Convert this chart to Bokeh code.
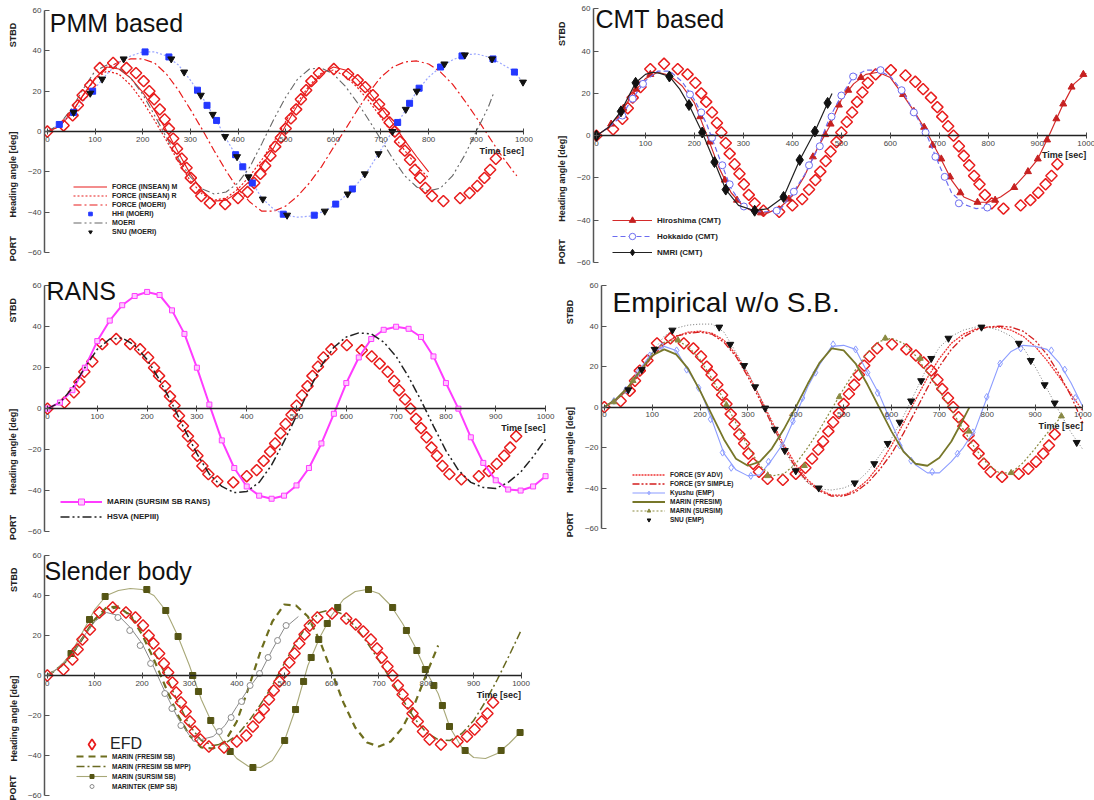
import math
from bokeh.plotting import figure
from bokeh.models import Range1d, FixedTicker, Label, Legend, LegendItem, LinearAxis
from bokeh.layouts import column, row
from bokeh.embed import file_html
from bokeh.resources import INLINE

FONT = "Liberation Sans"
X_TICKS = [0, 100, 200, 300, 400, 500, 600, 700, 800, 900, 1000]
Y_TICKS = [-60, -40, -20, 0, 20, 40, 60]
T41 = [0, 25, 50, 75, 100, 125, 150, 175, 200, 225, 250, 275, 300, 325, 350, 375, 400, 425, 450, 475,
       500, 525, 550, 575, 600, 625, 650, 675, 700, 725, 750, 775, 800, 825, 850, 875, 900, 925, 950, 975, 1000]

# ---------------- EFD (all panels) ----------------
EFD_T = [0, 34, 53, 64, 74, 90, 110, 138, 166, 186, 202, 214, 224, 236, 246, 255, 264, 272, 282, 292,
         301, 311, 323, 341, 373, 400, 420, 434, 447, 457, 468, 478, 490, 500, 511, 522, 532, 543, 554, 570,
         601, 631, 651, 667, 683, 696, 706, 718, 729, 740, 750, 761, 771, 782, 793, 807, 831, 866, 886, 902,
         917, 929, 941]
EFD_Y = [0, 3, 8, 13, 18, 23, 31.5, 34, 31.5, 29, 25, 20, 16, 11, 6, 1.5, -3.5, -8.5, -13.5, -18,
         -23, -28, -32, -35.5, -36, -33, -30, -25.5, -21, -17, -12, -7.5, -3, 1.5, 6.5, 11, 16, 20.5, 25, 29,
         31, 28.5, 25.5, 22, 18, 13.5, 9, 4.5, 0, -5, -9.5, -14, -19, -23, -28, -32, -34.5, -33, -30.5, -27,
         -23, -19, -13.5]

# ---------------- Panel 1: PMM based ----------------
INSEAN_T = T41[:33]
INSEAN_M_Y = [0, 2.5, 9, 18, 26.5, 32, 31, 26.5, 19.5, 10.5, 0.5, -10.5, -21, -29.5, -34.5, -34, -30, -24.5, -17, -8,
              3, 13, 22, 28.5, 32, 30.5, 26, 19.5, 12, 4, -4.5, -12.5, -20]
INSEAN_R_Y = [0, 2.5, 9, 18, 26, 30, 28.5, 23, 15, 5.5, -4.5, -15, -24.5, -31, -34, -33, -28.5, -22, -14, -5,
              5, 14.5, 23, 29, 30.5, 27.5, 22, 15, 7, -1.5, -9.5, -17, -23]
FMOERI_T = T41[:40] + [985]
FMOERI_Y = [0, 2.5, 9, 18, 26, 31.5, 34.5, 36, 36, 34, 28.5, 20.5, 11, 1, -9.5, -19.5, -28.5, -35, -39.5, -39.5,
            -37, -32, -25.5, -17.5, -8, 1, 10.5, 19.5, 27, 32, 34.5, 35, 33.5, 29.5, 23.5, 15.5, 7, -2, -11, -19, -22]
HHI_LINE_Y = [0, 3.5, 8, 15, 21.5, 28.5, 34.5, 37.5, 39.5, 39.5, 37.5, 33, 25.5, 17, 7.5, -3.5, -13.5, -23.5, -33, -38.5,
              -41.5, -42.5, -42, -40, -37, -32, -26, -18.5, -9, 0.5, 10, 20, 27, 32, 35.5, 38, 38.5, 37, 34, 30.5, 24]
HHI_T = [25, 55, 95, 205, 255, 315, 335, 355, 395, 410, 430, 495, 560, 605, 640, 735, 760, 780, 825, 870, 935, 980]
HHI_Y = [3.5, 9.5, 20, 39.5, 37, 20.5, 13, 5.5, -11.5, -17.5, -25.5, -41, -41.5, -36, -28.5, 4.5, 14, 21.5, 32, 37.5, 36, 29.5]
SNU1_T = [55, 90, 115, 160, 260, 287, 322, 347, 373, 398, 422, 452, 503, 582, 630, 666, 695, 724, 752, 775, 833, 876, 933, 998]
SNU1_Y = [9.5, 19, 26, 36, 36, 29.5, 18, 8.5, -2.5, -12.5, -22.5, -33.5, -41.5, -39.5, -31, -21, -11, 0, 11, 20, 33.5, 38, 36, 24.5]
MOERI_T = T41[:38] + [937]
MOERI_Y = [0, 3.5, 11, 21, 30, 33, 31.5, 26.5, 18.5, 8, -3, -13.5, -22.5, -28.5, -31, -30, -25.5, -17.5, -6, 6,
           17, 26, 31, 31.5, 28.5, 22.5, 14.5, 5.5, -4, -13.5, -22, -27.5, -29.5, -28, -22, -12, 0, 12, 19.5]

# ---------------- Panel 2: CMT based ----------------
HIRO_LINE_Y = [0, 4, 11, 20, 27, 30, 28.5, 23.5, 15.5, 0.5, -15, -27, -33.5, -36.5, -36.5, -34, -28.5, -19, -6.5, 4,
               17, 24.5, 29, 30, 27.5, 19.5, 11, 1.5, -9.5, -21, -29, -31.5, -31.5, -29, -25, -18.5, -11.5, 0.5, 13.5, 24.5, 29.5]
HIRO_T = [30, 55, 81, 110, 212, 231, 262, 287, 336, 393, 442, 467, 478, 495, 514, 540, 626, 648, 669, 686, 704, 722,
          743, 778, 814, 853, 881, 901, 920, 939, 953, 970, 994]
HIRO_Y = [5.5, 13, 22, 29, 9, -3, -21, -30.5, -36.5, -30, -10, 0.5, 5.5, 14.5, 21.5, 27.5, 19.5, 11.5, 4, -4.5, -11, -19.5,
          -27, -31.5, -30.5, -24.5, -17, -11, -2, 8, 15, 23, 29]
HOKK_LINE_T = T41[:33]
HOKK_LINE_Y = [0, 4, 9, 18, 26, 30.5, 30.5, 25.5, 17, 5.5, -10, -25, -33.5, -36, -36, -35, -27.5, -18.5, -7, 8,
               19, 28, 31, 31, 28, 21, 10.5, 0, -14, -27, -32.5, -34.5, -34]
HOKK_T = [53, 74, 95, 191, 214, 236, 257, 272, 301, 368, 403, 434, 456, 480, 500, 524, 580, 623, 648, 672, 692, 711, 740, 798]
HOKK_Y = [9.5, 17.5, 24.5, 19.5, 11, -1, -14, -23, -33.5, -35.5, -26.5, -14, -5, 9, 19, 28, 31, 21.5, 11, 1.5, -10, -19.5, -32, -34]
NMRI_LINE_T = [0, 25, 50, 80, 100, 115, 130, 149, 170, 189, 216, 241, 264, 290, 323, 350, 382, 415, 446, 472, 481]
NMRI_LINE_Y = [0, 4, 11.5, 25, 29, 30, 29.5, 28, 22, 14.5, 1.5, -12.5, -25.5, -33, -35.5, -34.5, -29, -11.5, 2, 15.5, 20]
NMRI_T = [0, 50, 80, 149, 189, 216, 241, 264, 323, 382, 415, 446, 472]
NMRI_Y = [0, 11.5, 25, 28, 14.5, 1.5, -12.5, -25.5, -35.5, -29, -11.5, 2, 15.5]

# ---------------- Panel 3: RANS ----------------
MARIN_RANS_Y = [0, 3, 9, 20, 33, 43, 50.5, 55, 57, 55.5, 48, 36.5, 20, 2, -15.5, -29, -38, -42.5, -44, -42.5,
                -37.5, -29, -17, -2.5, 12.5, 25, 34, 38.5, 40, 39, 35, 25.5, 12.5, 0, -14, -26.5, -35, -39.5, -40, -38, -33]
HSVA_Y = [0, 3, 10, 20, 29, 34, 34.5, 31, 24, 14, 2.5, -10, -22, -32, -38, -41, -40.5, -36, -27.5, -16,
          -3.5, 9, 21, 30, 35, 37, 36.5, 32.5, 25.5, 15.5, 4, -8.5, -20.5, -30, -36, -38.5, -39, -36, -31, -23.5, -15]

# ---------------- Panel 4: Empirical w/o S.B. ----------------
SY_ADV_Y = [0, 3.5, 9, 17, 25, 31, 35, 37, 37.5, 36.5, 33, 26, 16.5, 5, -7, -18.5, -28.5, -36, -41, -43.5,
            -43.5, -41, -36, -28.5, -19, -8, 3.5, 14.5, 24, 31.5, 36, 38.5, 39.5, 39.5, 38, 35, 30, 23, 15, 6.5, -2]
SY_SIMPLE_Y = [0, 3.5, 9, 17, 25, 31, 35, 36.5, 37, 36, 32, 25, 15, 3.5, -8.5, -20, -30, -37, -41.5, -44,
               -44, -42, -37.5, -31, -23, -13, -2, 9.5, 20, 28.5, 34.5, 38, 39.5, 40, 39.5, 37.5, 33, 26, 16.5, 5.5, -8]
KYUSHU_LINE_Y = [0, 4, 10, 19, 27, 30, 28, 18, 8.5, -6.5, -23, -31, -34, -33.5, -26, -17.5, -4, 10, 21, 30,
                 30.5, 28.5, 17, 6, -8, -21.5, -28.5, -32.5, -32.5, -27, -20, -11, 5, 21, 27.5, 30.5, 30, 28.5, 22, 12, 0]
KYUSHU_T = [20, 45, 70, 95, 120, 151, 172, 197, 222, 247, 265, 306, 343, 372, 394, 414, 441, 478, 525, 550, 571, 592,
            617, 641, 685, 738, 770, 799, 827, 870, 934, 962, 984]
KYUSHU_Y = [3, 8.5, 17, 25.5, 30, 28, 18.5, 9.5, -6, -22.5, -30, -34, -27, -19, -7, 4.5, 17, 31, 28.5, 17, 7, -4.5,
            -19, -26.5, -32, -23, -12.5, 5, 21.5, 29, 28, 18.5, 4.5]
FRESIM_T = T41[:31] + [763]
FRESIM_Y = [0, 4, 10, 18, 25.5, 28.5, 26, 19, 8, -4, -16, -25.5, -29, -27, -20.5, -11, 0, 11.5, 22, 29,
            28, 21.5, 11, -0.5, -12, -22, -28, -29, -25, -17, -6, 0]
SURSIM_T = T41[:39] + [955]
SURSIM_Y = [0, 3.5, 9, 18, 26.5, 32, 33, 30, 23.5, 14, 3.5, -8, -19.5, -29, -34, -33, -28, -20, -11, -1,
            9, 18.5, 27, 32.5, 34, 31.5, 25.5, 17, 8, -1.5, -11, -20.5, -28, -32.5, -32.5, -27.5, -20.5, -13, -6, -4.5]
SURSIM_MT = [20, 60, 154, 255, 341, 418, 491, 587, 660, 762, 850, 955]
SURSIM_MY = [2.5, 13, 33, 1, -34, -29, 5, 34, 24, -12, -32.5, -4.5]
SNU_EMP_LINE_Y = [0, 3.5, 8.5, 17.5, 27, 35, 39, 40.5, 41, 41, 37, 27, 17, 5, -8, -20.5, -31.5, -37.5, -40.5, -41,
                  -40, -37.5, -32, -24, -15.5, -4.5, 7.5, 20, 29.5, 35, 38, 39.5, 39.5, 38, 35, 29.5, 20, 9, -2, -12.5, -21]
SNU_EMP_T = [50, 78, 105, 142, 240, 263, 292, 315, 336, 356, 377, 400, 448, 523, 564, 592, 617, 641, 662, 683, 719,
             788, 866, 891, 920, 941, 987]
SNU_EMP_Y = [8.5, 18.5, 28.5, 38, 39.5, 31, 20.5, 10, -0.5, -11, -21.5, -31.5, -40, -37.5, -28, -18, -7.5, 3, 13, 24, 34,
             39.5, 31.5, 23, 11, 2, -17.5]

# ---------------- Panel 5: Slender body ----------------
FRESIM_SB_T = T41[:34]
FRESIM_SB_Y = [0, 4, 10, 19, 28, 34, 34.5, 30, 20.5, 8, -6, -19.5, -30, -36, -36.5, -33, -23, -6, 12, 27,
               35.5, 35, 29.5, 17.5, 2, -13.5, -26, -33.5, -35.5, -33, -26, -14.5, 0.5, 15]
MPP_Y = [0, 3.5, 9.5, 18.5, 27.5, 33, 34, 30.5, 22.5, 12, 0, -13, -25, -32.5, -35, -34, -30, -23, -14.5, -5,
         6, 16.5, 25.5, 31.5, 33, 30.5, 24.5, 16.5, 7.5, -2, -12, -21.5, -28.5, -32, -32.5, -29, -22.5, -13, -2, 10, 22.5]
SURSIM_SB_LINE_Y = [0, 4, 11, 22, 33, 40, 42.5, 43.5, 43, 40, 32.5, 20, 5, -12, -25, -34.5, -41.5, -45.5, -46, -42.5,
                    -33, -16, 5, 19, 30, 38, 42, 43, 41, 35, 26, 15, 2, -9, -26, -36, -41, -41.5, -39, -34, -28]
SURSIM_SB_T = [50, 89, 122, 210, 250, 276, 307, 319, 345, 386, 434, 501, 524, 541, 557, 573, 591, 613, 678, 729, 758,
               780, 798, 816, 834, 849, 882, 958, 998]
SURSIM_SB_Y = [11, 28, 39.5, 43, 32.5, 19.5, 0, -8, -22.5, -38, -46, -32.5, -17, -3, 9, 18, 26, 34, 43, 34, 22.5,
               12.5, 3, -5, -15, -25.5, -37.5, -37.5, -28.5]
MARINTEK_LINE_T = [0, 25, 50, 75, 100, 125, 150, 175, 200, 225, 250, 275, 300, 325, 350, 375, 400, 425, 450, 475, 500, 530]
MARINTEK_LINE_Y = [0, 4, 10, 19, 27, 31.5, 30, 24, 16, 4, -9, -21, -30, -32, -30.5, -25, -15.5, -6.5, 1.5, 13, 23.5, 29.5]
MARINTEK_T = [149, 174, 196, 218, 248, 263, 282, 312, 363, 388, 410, 428, 448, 466, 486, 504]
MARINTEK_Y = [29, 22.5, 15, 6, -9, -16.5, -25, -31.5, -28, -21, -13, -5, 1, 9, 17.5, 25]

RED = "#e81c1c"
OLIVE = "#6e6e1e"


def base(fw, fh, bl, br, bt, bb, xend, ytop, stbd_y, port_y):
    p = figure(frame_width=fw, frame_height=fh, min_border_left=bl, min_border_right=br,
               min_border_top=bt, min_border_bottom=bb, x_range=Range1d(-6, xend),
               y_range=Range1d(-60, ytop), output_backend="svg", toolbar_location=None, title=None)
    p.grid.visible = False
    p.outline_line_color = None
    p.background_fill_color = "white"
    p.border_fill_color = "white"
    xa = p.xaxis[0]
    xa.fixed_location = 0
    xa.bounds = (-6, 1000)
    xa.ticker = FixedTicker(ticks=X_TICKS)
    xa.axis_line_color = "#222222"
    xa.axis_line_width = 1.6
    xa.major_tick_in = 3
    xa.major_tick_out = 3
    xa.major_tick_line_color = "#444444"
    xa.minor_tick_line_color = None
    xa.major_label_text_font = FONT
    xa.major_label_text_font_size = "8px"
    xa.major_label_text_color = "#444444"
    xa.major_label_standoff = 2
    ya = p.yaxis[0]
    ya.bounds = (-60, 60)
    ya.ticker = FixedTicker(ticks=Y_TICKS)
    ya.axis_line_color = "#555555"
    ya.axis_line_width = 1.5
    ya.major_tick_in = 5
    ya.major_tick_out = 0
    ya.major_tick_line_color = "#555555"
    ya.minor_tick_line_color = None
    ya.major_label_text_font = FONT
    ya.major_label_text_font_size = "8px"
    ya.major_label_text_color = "#444444"
    ya.major_label_standoff = 3
    side = LinearAxis(ticker=FixedTicker(ticks=[stbd_y, 0, port_y]),
                      major_label_overrides={stbd_y: "STBD", 0: "Heading angle [deg]", port_y: "PORT"},
                      major_label_orientation=math.pi / 2, axis_line_color=None,
                      major_tick_line_color=None, minor_tick_line_color=None,
                      major_label_text_font=FONT, major_label_text_font_size="9px",
                      major_label_text_font_style="bold", major_label_text_color="#222222",
                      major_label_standoff=5)
    p.add_layout(side, "left")
    return p


def deco(p, title, tx, ty, tsize):
    p.add_layout(Label(x=tx, y=ty, text=title, text_font=FONT, text_font_size=tsize,
                       text_color="#111111", text_baseline="top"))
    p.add_layout(Label(x=1000, y=-7, text="Time [sec]", text_align="right", text_baseline="top",
                       text_font=FONT, text_font_size="9px", text_font_style="bold", text_color="#222222"))


def efd(p):
    return p.scatter(EFD_T, EFD_Y, marker="square", angle=math.pi / 4, size=8,
                     line_color=RED, line_width=1.5, fill_color=None)


def legend(p, items, loc, fs, gw, gh, bold=True, standoff=5, **kw):
    lg = Legend(items=items, location=loc, label_text_font=FONT, label_text_font_size=fs,
                label_text_font_style="bold" if bold else "normal", label_text_color="#222222",
                glyph_width=gw, glyph_height=gh, label_height=gh, spacing=0, padding=0, margin=0,
                border_line_color=None, background_fill_alpha=0, label_standoff=standoff, **kw)
    p.add_layout(lg)


# ---------- Panel 1 ----------
p1 = base(489, 250, 40, 16, 1, 19, 1020, 64, 54, -52)
r_m = p1.line(INSEAN_T, INSEAN_M_Y, line_color=RED, line_width=1.1)
r_r = p1.line(INSEAN_T, INSEAN_R_Y, line_color=RED, line_width=1.2, line_dash="2 2")
r_fm = p1.line(FMOERI_T, FMOERI_Y, line_color=RED, line_width=1.2, line_dash="8 3 2 3")
r_hl = p1.line(T41, HHI_LINE_Y, line_color="#9aa6ff", line_width=1.2, line_dash="2 2")
r_mo = p1.line(MOERI_T, MOERI_Y, line_color="#666666", line_width=1.1, line_dash="8 3 2 3 2 3")
efd(p1)
r_hhi = p1.scatter(HHI_T, HHI_Y, marker="square", size=6, color="#2438ff")
r_snu = p1.scatter(SNU1_T, SNU1_Y, marker="inverted_triangle", size=7, color="#111111")
deco(p1, "PMM based", 5, 61, "25px")
legend(p1, [LegendItem(label="FORCE (INSEAN) M", renderers=[r_m]),
            LegendItem(label="FORCE (INSEAN) R", renderers=[r_r]),
            LegendItem(label="FORCE (MOERI)", renderers=[r_fm]),
            LegendItem(label="HHI (MOERI)", renderers=[r_hhi]),
            LegendItem(label="MOERI", renderers=[r_mo]),
            LegendItem(label="SNU (MOERI)", renderers=[r_snu])],
       (29, 16), "7px", 34, 9)

# ---------- Panel 2 ----------
p2 = base(505, 260, 40, 4, 2, 8, 1025, 63, 54, -49)
efd(p2)
h_l = p2.line(T41, HIRO_LINE_Y, line_color="#d42a2a", line_width=1.2)
h_m = p2.scatter(HIRO_T, HIRO_Y, marker="triangle", size=7, color="#c62020")
k_l = p2.line(HOKK_LINE_T, HOKK_LINE_Y, line_color="#6c6cf0", line_width=1.2, line_dash="5 3")
k_m = p2.scatter(HOKK_T, HOKK_Y, marker="circle", size=7, line_color="#6c6cf0", fill_color="white", line_width=1)
n_l = p2.line(NMRI_LINE_T, NMRI_LINE_Y, line_color="#222222", line_width=1.2)
n_m = p2.scatter(NMRI_T, NMRI_Y, marker="diamond", size=11, color="#111111")
deco(p2, "CMT based", -2, 62, "25px")
legend(p2, [LegendItem(label="Hiroshima (CMT)", renderers=[h_l, h_m]),
            LegendItem(label="Hokkaido (CMT)", renderers=[k_l, k_m]),
            LegendItem(label="NMRI (CMT)", renderers=[n_l, n_m])],
       (19, 2), "8px", 40, 16)

# ---------- Panel 3 ----------
p3 = base(511, 258, 42, 2, 3, 9, 1020, 66, 54, -52)
efd(p3)
m_l = p3.line(T41, MARIN_RANS_Y, line_color="#ff3cff", line_width=2)
m_m = p3.scatter(T41, MARIN_RANS_Y, marker="square", size=5, line_color="#ff3cff", fill_color="#ffc8ff", line_width=1)
hs = p3.line(T41, HSVA_Y, line_color="#222222", line_width=1.5, line_dash="9 3 2 3 2 3")
deco(p3, "RANS", -2, 64.4, "25px")
legend(p3, [LegendItem(label="MARIN (SURSIM SB RANS)", renderers=[m_l, m_m]),
            LegendItem(label="HSVA (NEPIII)", renderers=[hs])],
       (16, 7), "8px", 42, 15)

# ---------- Panel 4 ----------
p4 = base(491, 255, 40, 8, 2, 13, 1020, 66, 53, -52)
efd(p4)
a_l = p4.line(T41, SY_ADV_Y, line_color="#ee3333", line_width=1.3, line_dash="2 1")
s_l = p4.line(T41, SY_SIMPLE_Y, line_color="#d41e1e", line_width=1.3, line_dash="7 2 2 2 2 2")
ky_l = p4.line(T41, KYUSHU_LINE_Y, line_color="#8c9cff", line_width=1.1)
ky_m = p4.scatter(KYUSHU_T, KYUSHU_Y, marker="diamond", size=7, line_color="#8c9cff", fill_color=None, line_width=1)
fr_l = p4.line(FRESIM_T, FRESIM_Y, line_color="#77772a", line_width=1.8)
su_l = p4.line(SURSIM_T, SURSIM_Y, line_color="#8a8a40", line_width=1.2, line_dash="2 2")
su_m = p4.scatter(SURSIM_MT, SURSIM_MY, marker="triangle", size=6, color="#8a8a40")
sn_l = p4.line(T41, SNU_EMP_LINE_Y, line_color="#777777", line_width=1, line_dash="1 2")
sn_m = p4.scatter(SNU_EMP_T, SNU_EMP_Y, marker="inverted_triangle", size=7, color="#111111")
deco(p4, "Empirical w/o S.B.", 17, 59.5, "28px")
legend(p4, [LegendItem(label="FORCE (SY ADV)", renderers=[a_l]),
            LegendItem(label="FORCE (SY SIMPLE)", renderers=[s_l]),
            LegendItem(label="Kyushu (EMP)", renderers=[ky_l, ky_m]),
            LegendItem(label="MARIN (FRESIM)", renderers=[fr_l]),
            LegendItem(label="MARIN (SURSIM)", renderers=[su_l, su_m]),
            LegendItem(label="SNU (EMP)", renderers=[sn_m])],
       (31, 4), "6.5px", 33, 9)

# ---------- Panel 5 ----------
p5 = base(486, 252, 40, 14, 3, 5, 1020, 66, 54, -54)
f_l = p5.line(FRESIM_SB_T, FRESIM_SB_Y, line_color=OLIVE, line_width=2.2, line_dash="7 5")
mp_l = p5.line(T41, MPP_Y, line_color="#6a6a22", line_width=1.5, line_dash="8 3 2 3")
ss_l = p5.line(T41, SURSIM_SB_LINE_Y, line_color="#a8a878", line_width=1.1)
ss_m = p5.scatter(SURSIM_SB_T, SURSIM_SB_Y, marker="square", size=6, color="#555514")
mt_l = p5.line(MARINTEK_LINE_T, MARINTEK_LINE_Y, line_color="#8a8a8a", line_width=1)
mt_m = p5.scatter(MARINTEK_T, MARINTEK_Y, marker="circle", size=6, line_color="#8a8a8a", fill_color="white", line_width=1)
efd(p5)
e_leg = p5.scatter(EFD_T, EFD_Y, marker="diamond", size=12, line_color=RED, line_width=1.8,
                   fill_color=None, visible=False)
deco(p5, "Slender body", -6, 59.5, "25px")
legend(p5, [LegendItem(label="EFD", renderers=[e_leg])], (32, 38), "16px", 31, 26, bold=False, standoff=3,
       inactive_fill_alpha=0)
legend(p5, [LegendItem(label="MARIN (FRESIM SB)", renderers=[f_l]),
            LegendItem(label="MARIN (FRESIM SB MPP)", renderers=[mp_l]),
            LegendItem(label="MARIN (SURSIM SB)", renderers=[ss_l, ss_m]),
            LegendItem(label="MARINTEK (EMP SB)", renderers=[mt_m])],
       (32, 4), "6.5px", 31, 10)

layout = column(row(p1, p2), row(p3, p4), p5)
open("out.html", "w").write(file_html(layout, INLINE))
